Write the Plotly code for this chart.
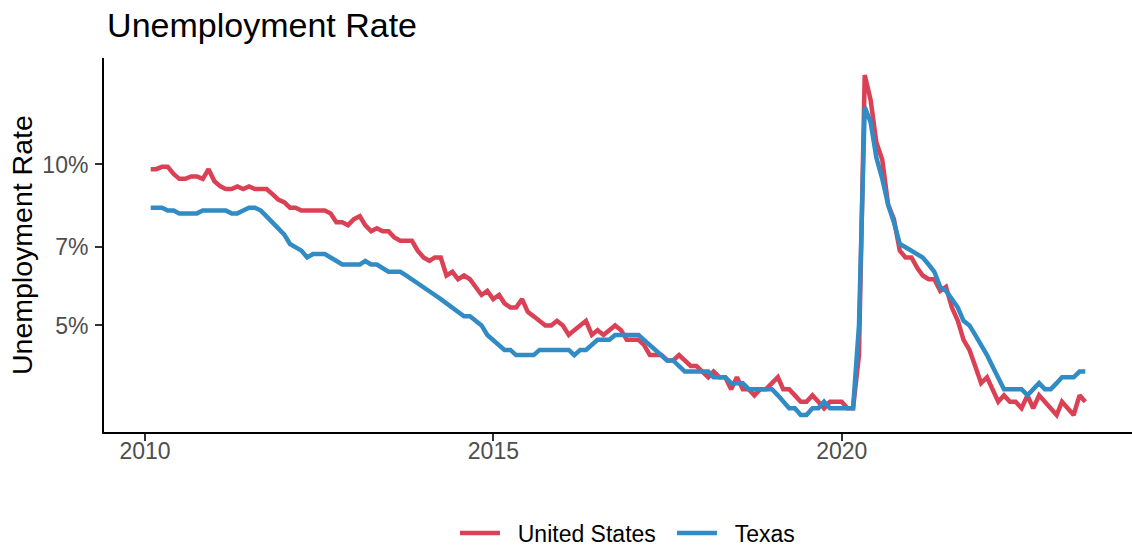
import numpy as np
import pandas as pd
import plotly.graph_objects as go

# Monthly observations Jan 2010 - Jun 2023 (plotted at month end)
dates = pd.date_range("2010-02-01", periods=162, freq="MS") - pd.Timedelta(days=1)

us_rate = [
    9.8, 9.8, 9.9, 9.9, 9.6, 9.4, 9.4, 9.5, 9.5, 9.4, 9.8, 9.3,
    9.1, 9.0, 9.0, 9.1, 9.0, 9.1, 9.0, 9.0, 9.0, 8.8, 8.6, 8.5,
    8.3, 8.3, 8.2, 8.2, 8.2, 8.2, 8.2, 8.1, 7.8, 7.8, 7.7, 7.9,
    8.0, 7.7, 7.5, 7.6, 7.5, 7.5, 7.3, 7.2, 7.2, 7.2, 6.9, 6.7,
    6.6, 6.7, 6.7, 6.2, 6.3, 6.1, 6.2, 6.1, 5.9, 5.7, 5.8, 5.6,
    5.7, 5.5, 5.4, 5.4, 5.6, 5.3, 5.2, 5.1, 5.0, 5.0, 5.1, 5.0,
    4.8, 4.9, 5.0, 5.1, 4.8, 4.9, 4.8, 4.9, 5.0, 4.9, 4.7, 4.7,
    4.7, 4.6, 4.4, 4.4, 4.4, 4.3, 4.3, 4.4, 4.3, 4.2, 4.2, 4.1,
    4.0, 4.1, 4.0, 4.0, 3.8, 4.0, 3.8, 3.8, 3.7, 3.8, 3.8, 3.9,
    4.0, 3.8, 3.8, 3.7, 3.6, 3.6, 3.7, 3.6, 3.5, 3.6, 3.6, 3.6,
    3.5, 3.5, 4.4, 14.7, 13.2, 11.0, 10.2, 8.4, 7.9, 6.9, 6.7, 6.7,
    6.4, 6.2, 6.1, 6.1, 5.8, 5.9, 5.4, 5.1, 4.7, 4.5, 4.2, 3.9,
    4.0, 3.8, 3.6, 3.7, 3.6, 3.6, 3.5, 3.7, 3.5, 3.7, 3.6, 3.5,
    3.4, 3.6, 3.5, 3.4, 3.7, 3.6,
]

texas_rate = [
    8.3, 8.3, 8.3, 8.2, 8.2, 8.1, 8.1, 8.1, 8.1, 8.2, 8.2, 8.2,
    8.2, 8.2, 8.1, 8.1, 8.2, 8.3, 8.3, 8.2, 8.0, 7.8, 7.6, 7.4,
    7.1, 7.0, 6.9, 6.7, 6.8, 6.8, 6.8, 6.7, 6.6, 6.5, 6.5, 6.5,
    6.5, 6.6, 6.5, 6.5, 6.4, 6.3, 6.3, 6.3, 6.2, 6.1, 6.0, 5.9,
    5.8, 5.7, 5.6, 5.5, 5.4, 5.3, 5.2, 5.2, 5.1, 5.0, 4.8, 4.7,
    4.6, 4.5, 4.5, 4.4, 4.4, 4.4, 4.4, 4.5, 4.5, 4.5, 4.5, 4.5,
    4.5, 4.4, 4.5, 4.5, 4.6, 4.7, 4.7, 4.7, 4.8, 4.8, 4.8, 4.8,
    4.8, 4.7, 4.6, 4.5, 4.4, 4.3, 4.3, 4.2, 4.1, 4.1, 4.1, 4.1,
    4.1, 4.0, 4.0, 4.0, 3.9, 3.9, 3.9, 3.8, 3.8, 3.8, 3.8, 3.8,
    3.7, 3.6, 3.5, 3.5, 3.4, 3.4, 3.5, 3.5, 3.6, 3.5, 3.5, 3.5,
    3.5, 3.5, 5.0, 12.8, 12.0, 10.3, 9.4, 8.4, 7.8, 7.1, 7.0, 6.9,
    6.8, 6.7, 6.5, 6.3, 5.9, 5.8, 5.6, 5.4, 5.1, 5.0, 4.8, 4.6,
    4.4, 4.2, 4.0, 3.8, 3.8, 3.8, 3.8, 3.7, 3.8, 3.9, 3.8, 3.8,
    3.9, 4.0, 4.0, 4.0, 4.1, 4.1,
]

series_names = ["United States", "Texas"]
series_colors = ["#DB4154", "#318BC4"]
x_tick_years = [2010, 2015, 2020]
y_tick_values = [5, 7, 10]
y_title = "Unemployment Rate"

FONT = "Liberation Sans, Arial, Helvetica, sans-serif"
KEY_GAP = "\u00a0\u00a0"  # visual gap between legend key and label

fig = go.Figure()
for name, vals, col in zip(series_names, [us_rate, texas_rate], series_colors):
    fig.add_trace(go.Scatter(
        x=dates, y=vals, mode="lines", name=KEY_GAP + name,
        line=dict(color=col, width=4.5),
        hoverinfo="skip",
    ))

# ggplot-like 5% expansion
span = dates[-1] - dates[0]
x_range = [dates[0] - span * 0.05, dates[-1] + span * 0.05]
all_vals = np.array(us_rate + texas_rate)
lmin, lmax = np.log10(all_vals.min()), np.log10(all_vals.max())
pad = 0.05 * (lmax - lmin)
y_range = [lmin - pad, lmax + pad]

fig.update_layout(
    width=1132, height=548,
    margin=dict(l=104, r=0, t=58, b=116, autoexpand=False),
    paper_bgcolor="white", plot_bgcolor="white",
    font=dict(family=FONT, color="#000000"),
    title=dict(
        text="Unemployment Rate",
        font=dict(size=34, color="#000000", family=FONT),
        xref="paper", x=0.003, xanchor="left",
        yref="container", y=1 - 25 / 548, yanchor="middle",
    ),
    xaxis=dict(
        range=[x_range[0].isoformat(), x_range[1].isoformat()],
        tickvals=[pd.Timestamp(f"{y}-01-01") for y in x_tick_years],
        ticktext=[str(y) for y in x_tick_years],
        showline=True, linecolor="#000000", linewidth=2,
        ticks="outside", ticklen=7, tickwidth=2, tickcolor="#333333",
        tickfont=dict(size=23, color="#4D4D4D", family=FONT),
        ticklabelstandoff=-10,
        showgrid=False, zeroline=False, mirror=False, automargin=False,
    ),
    yaxis=dict(
        type="log", range=y_range,
        tickvals=y_tick_values,
        ticktext=[f"{v}%" for v in y_tick_values],
        showline=True, linecolor="#000000", linewidth=2,
        ticks="outside", ticklen=7, tickwidth=2, tickcolor="#333333",
        tickfont=dict(size=23, color="#4D4D4D", family=FONT),
        ticklabelstandoff=2,
        showgrid=False, zeroline=False, mirror=False, automargin=False,
    ),
    annotations=[dict(
        text=y_title, textangle=-90,
        xref="paper", x=(22 - 104) / 1028, xanchor="center",
        yref="paper", y=0.5, yanchor="middle",
        showarrow=False,
        font=dict(size=28.5, color="#000000", family=FONT),
    )],
    legend=dict(
        orientation="h", x=0.5525, xanchor="center",
        yref="container", y=(548 - 533) / 548, yanchor="middle",
        font=dict(size=23, color="#000000", family=FONT),
        bgcolor="rgba(0,0,0,0)",
        itemwidth=40,
        entrywidth=162, entrywidthmode="pixels",
    ),
    showlegend=True,
    hovermode=False,
)

fig.write_html(
    "out.html",
    config={"displayModeBar": False},
    post_script="document.body.style.margin='0';document.body.style.padding='0';",
)
